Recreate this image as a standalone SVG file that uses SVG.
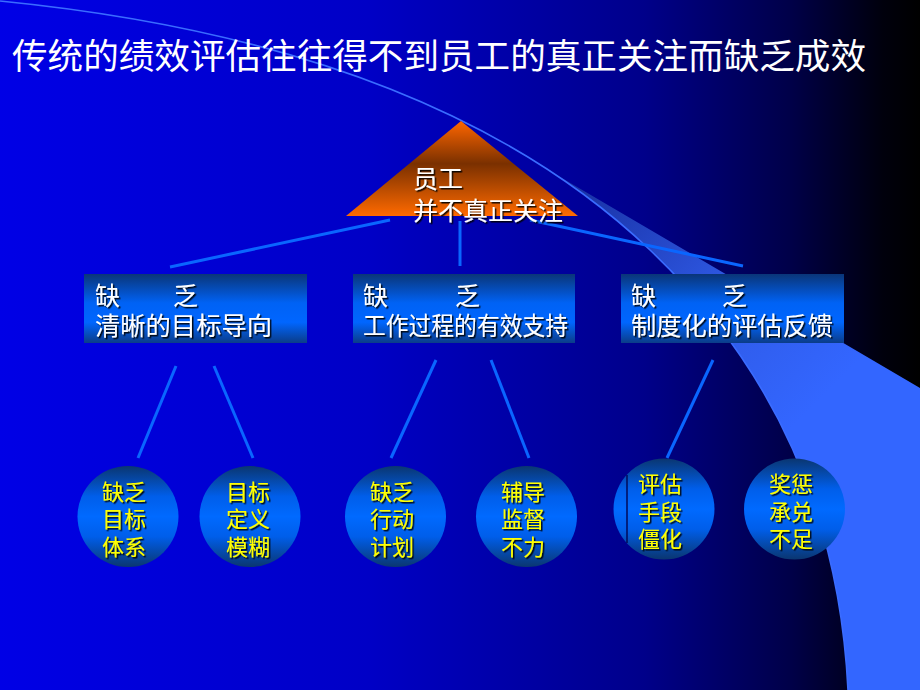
<svg xmlns="http://www.w3.org/2000/svg" width="920" height="690" viewBox="0 0 920 690">
<defs>
  <linearGradient id="bg" x1="0" y1="0" x2="1" y2="0">
    <stop offset="0" stop-color="#0000e6"/>
    <stop offset="0.4" stop-color="#0000c6"/>
    <stop offset="0.7" stop-color="#00008a"/>
    <stop offset="0.86" stop-color="#000048"/>
    <stop offset="0.96" stop-color="#00000c"/>
    <stop offset="1" stop-color="#000000"/>
  </linearGradient>
  <linearGradient id="band" gradientUnits="userSpaceOnUse" x1="555" y1="174" x2="800" y2="420">
    <stop offset="0" stop-color="#162c9c"/>
    <stop offset="0.6" stop-color="#2f5ae6"/>
    <stop offset="1" stop-color="#3366ff"/>
  </linearGradient>
  <linearGradient id="tri" x1="0" y1="0" x2="0" y2="1">
    <stop offset="0" stop-color="#ff6600"/>
    <stop offset="0.45" stop-color="#7a3000"/>
    <stop offset="1" stop-color="#ff6a00"/>
  </linearGradient>
  <linearGradient id="boxg" x1="0" y1="0" x2="0" y2="1">
    <stop offset="0" stop-color="#0a3578"/>
    <stop offset="0.42" stop-color="#0062f5"/>
    <stop offset="0.7" stop-color="#0066ff"/>
    <stop offset="1" stop-color="#0b3c88"/>
  </linearGradient>
  <linearGradient id="circg" x1="0" y1="0" x2="0" y2="1">
    <stop offset="0" stop-color="#0a3670"/>
    <stop offset="0.3" stop-color="#005eea"/>
    <stop offset="0.5" stop-color="#006aff"/>
    <stop offset="0.7" stop-color="#005eea"/>
    <stop offset="1" stop-color="#0a3670"/>
  </linearGradient>
  <filter id="sh" x="-10%" y="-10%" width="130%" height="140%">
    <feDropShadow dx="1.5" dy="1.5" stdDeviation="0.3" flood-color="#000000" flood-opacity="0.9"/>
  </filter>
  <style>
    .t { font-family: "Noto Sans CJK SC", "Noto Sans", sans-serif; }
    .title { font-size: 35px; fill: #ffffff; }
    .wt { font-size: 25px; fill: #ffffff; filter: url(#sh); }
    .yt { font-size: 22px; fill: #ffff00; filter: url(#sh); }
    .box { fill: url(#boxg); }
    .circ { fill: url(#circg); }
    .conn { stroke: #0a66ff; stroke-width: 3; fill: none; }
  </style>
</defs>

<rect x="0" y="0" width="920" height="690" fill="url(#bg)"/>
<path d="M555,174 L920,388 L920,690 L848,690 Q835,425.6 650,250 Q606.8,208.9 555,174 Z" fill="url(#band)"/>
<path d="M0,1 Q433.5,44 650,250 Q835,425.6 848,690" fill="none" stroke="#3a6cff" stroke-width="1.6"/>

<text class="t title" x="12" y="69" textLength="854" lengthAdjust="spacingAndGlyphs">传统的绩效评估往往得不到员工的真正关注而缺乏成效</text>

<g id="connectors">
  <line class="conn" x1="390" y1="220" x2="170" y2="267"/>
  <line class="conn" x1="460" y1="221" x2="460" y2="266"/>
  <line class="conn" x1="530" y1="220" x2="743" y2="266"/>
  <line class="conn" x1="176" y1="366" x2="138" y2="458"/>
  <line class="conn" x1="214" y1="366" x2="253" y2="458"/>
  <line class="conn" x1="436" y1="360" x2="391" y2="458"/>
  <line class="conn" x1="491" y1="360" x2="529" y2="458"/>
  <line class="conn" x1="713" y1="360" x2="667" y2="458"/>
</g>

<g id="node-top">
  <polygon points="461,121 346,216 578,216" fill="url(#tri)"/>
  <text class="t wt" x="413" y="188">员工</text>
  <text class="t wt" x="413" y="220">并不真正关注</text>
</g>

<g id="node-box1">
  <rect class="box" x="84" y="274" width="223" height="69"/>
  <text class="t wt"><tspan x="95" y="305">缺</tspan><tspan x="173" y="305">乏</tspan></text>
  <text class="t wt" x="95" y="335" textLength="177" lengthAdjust="spacingAndGlyphs">清晰的目标导向</text>
</g>

<g id="node-box2">
  <rect class="box" x="353" y="274" width="222" height="69"/>
  <text class="t wt"><tspan x="363" y="305">缺</tspan><tspan x="455" y="305">乏</tspan></text>
  <text class="t wt" x="363" y="335" textLength="205" lengthAdjust="spacingAndGlyphs">工作过程的有效支持</text>
</g>

<g id="node-box3">
  <rect class="box" x="621" y="274" width="223" height="69"/>
  <text class="t wt"><tspan x="631" y="305">缺</tspan><tspan x="722" y="305">乏</tspan></text>
  <text class="t wt" x="631" y="335" textLength="202" lengthAdjust="spacingAndGlyphs">制度化的评估反馈</text>
</g>

<g id="node-c1">
  <circle class="circ" cx="128" cy="516.5" r="50.5"/>
  <text class="t yt"><tspan x="102" y="499.5">缺乏</tspan><tspan x="102" y="527">目标</tspan><tspan x="102" y="554.5">体系</tspan></text>
</g>
<g id="node-c2">
  <circle class="circ" cx="250" cy="516.5" r="50.5"/>
  <text class="t yt"><tspan x="226" y="499.5">目标</tspan><tspan x="226" y="527">定义</tspan><tspan x="226" y="554.5">模糊</tspan></text>
</g>
<g id="node-c3">
  <circle class="circ" cx="395.5" cy="516.5" r="50.5"/>
  <text class="t yt"><tspan x="370" y="499.5">缺乏</tspan><tspan x="370" y="527">行动</tspan><tspan x="370" y="554.5">计划</tspan></text>
</g>
<g id="node-c4">
  <circle class="circ" cx="526.5" cy="516.5" r="50.5"/>
  <text class="t yt"><tspan x="501" y="499.5">辅导</tspan><tspan x="501" y="527">监督</tspan><tspan x="501" y="554.5">不力</tspan></text>
</g>
<g id="node-c5">
  <circle class="circ" cx="664" cy="509" r="50.5"/>
  <line x1="627" y1="475" x2="627" y2="543" stroke="#000a5a" stroke-width="1.5"/>
  <text class="t yt"><tspan x="638" y="491.5">评估</tspan><tspan x="638" y="519.5">手段</tspan><tspan x="638" y="546.5">僵化</tspan></text>
</g>
<g id="node-c6">
  <circle class="circ" cx="794.5" cy="509" r="50.5"/>
  <text class="t yt"><tspan x="769" y="491.5">奖惩</tspan><tspan x="769" y="519.5">承兑</tspan><tspan x="769" y="546.5">不足</tspan></text>
</g>
</svg>
